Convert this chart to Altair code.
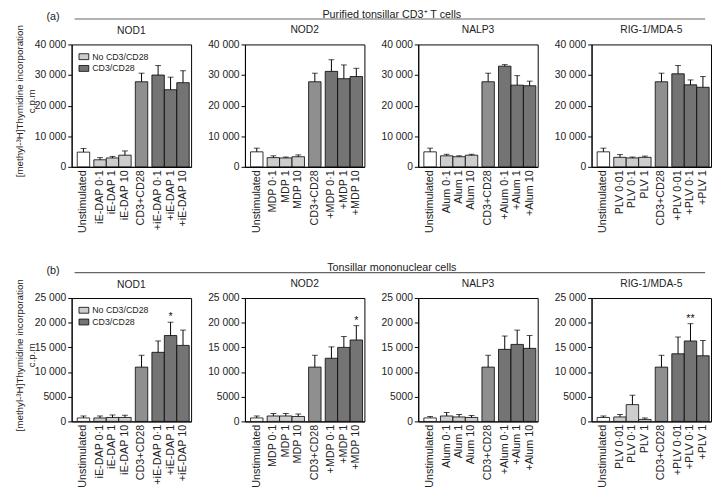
import altair as alt
import pandas as pd

FONT = "Liberation Sans, Arial, sans-serif"

# ---------------- data ----------------
panel_titles = ["NOD1", "NOD2", "NALP3", "RIG-1/MDA-5"]
header_tags = ["(a)", "(b)"]
header_texts = ["Purified tonsillar CD3\u207a T cells", "Tonsillar mononuclear cells"]

kinds = ["Unstimulated", "No CD3/CD28", "CD3+CD28", "CD3/CD28"]
kind_colors = ["#ffffff", "#cdcdcd", "#8f8f8f", "#747474"]
legend_values = ["No CD3/CD28", "CD3/CD28"]
bar_kinds = ["Unstimulated", "No CD3/CD28", "No CD3/CD28", "No CD3/CD28",
             "CD3+CD28", "CD3/CD28", "CD3/CD28", "CD3/CD28"]
# bars that start a new group (a small gap before them)
group_starts = [1, 4, 5]

labels_nod1 = ["Unstimulated", "iE-DAP 0\u00b71", "iE-DAP 1", "iE-DAP 10",
               "CD3+CD28", "+iE-DAP 0\u00b71", "+iE-DAP 1", "+iE-DAP 10"]
labels_nod2 = ["Unstimulated", "MDP 0\u00b71", "MDP 1", "MDP 10",
               "CD3+CD28", "+MDP 0\u00b71", "+MDP 1", "+MDP 10"]
labels_nalp3 = ["Unstimulated", "Alum 0\u00b71", "Alum 1", "Alum 10",
                "CD3+CD28", "+Alum 0\u00b71", "+Alum 1", "+Alum 10"]
labels_rig = ["Unstimulated", "PLV 0\u00b701", "PLV 0\u00b71", "PLV 1",
              "CD3+CD28", "+PLV 0\u00b701", "+PLV 0\u00b71", "+PLV 1"]

# (a) purified tonsillar CD3+ T cells
a_nod1_mean = [4800, 2300, 2900, 3800, 27800, 30000, 25200, 27500]
a_nod1_err = [1200, 700, 500, 1400, 2800, 3100, 4100, 3900]
a_nod2_mean = [4900, 3000, 2900, 3300, 27800, 31200, 28800, 29500]
a_nod2_err = [1200, 600, 300, 600, 2800, 3800, 4500, 2700]
a_nalp3_mean = [4900, 3600, 3300, 3800, 27800, 32900, 26700, 26500]
a_nalp3_err = [1200, 500, 300, 300, 2800, 500, 3100, 1500]
a_rig_mean = [4900, 3100, 2900, 3100, 27800, 30400, 26800, 26000]
a_rig_err = [1200, 900, 300, 400, 2800, 2700, 1600, 3500]
a_no_stars = ["", "", "", "", "", "", "", ""]

# (b) tonsillar mononuclear cells
b_nod1_mean = [700, 700, 800, 800, 11000, 14000, 17400, 15400]
b_nod1_err = [400, 400, 500, 450, 2400, 2300, 2700, 3100]
b_nod2_mean = [700, 1100, 1100, 1000, 11000, 12800, 15000, 16500]
b_nod2_err = [400, 500, 500, 500, 2400, 2300, 2200, 2900]
b_nalp3_mean = [700, 1100, 900, 800, 11000, 14600, 15600, 14800]
b_nalp3_err = [300, 700, 500, 400, 2400, 2700, 2900, 2600]
b_rig_mean = [800, 900, 3400, 400, 11000, 13700, 16300, 13300]
b_rig_err = [300, 500, 1900, 300, 2400, 3400, 3500, 3100]
b_nod1_stars = ["", "", "", "", "", "", "*", ""]
b_nod2_stars = ["", "", "", "", "", "", "", "*"]
b_nalp3_stars = ["", "", "", "", "", "", "", ""]
b_rig_stars = ["", "", "", "", "", "", "**", ""]

a_ticks = [0, 10000, 20000, 30000, 40000]
b_ticks = [0, 5000, 10000, 15000, 20000, 25000]

y_title = ["[methyl-\u00b3H]Thymidine incorporation", "c.p.m"]

PW = 122      # panel plot width
PH_A = 125
PH_B = 126


def slot_domain(labels):
    # each bar spans three narrow slots (hidden fillers either side); a single
    # hidden slot separates the groups
    dom = []
    for i, lab in enumerate(labels):
        if i in group_starts:
            dom.append(f"_g{i}")
        dom += [f"_l{i}", lab, f"_r{i}"]
    return dom


def panel(title, labels, means, errs, stars, ticks, height, first):
    df = pd.DataFrame({"label": labels, "mean": means, "err": errs,
                       "star": stars, "kind": bar_kinds})
    xs = alt.X("label:N",
               scale=alt.Scale(domain=slot_domain(labels), paddingInner=0,
                               paddingOuter=0.9, align=0.75),
               axis=alt.Axis(title=None, labelAngle=270, ticks=False, labelPadding=3,
                             labelExpr="indexof(datum.label, '_') == 0 ? '' : datum.label",
                             labelFontSize=11))
    yscale = alt.Scale(domain=[ticks[0], ticks[-1]], nice=False)
    axis_kw = dict(values=ticks, grid=False, tickSize=4, labelPadding=2, labelFontSize=10.5,
                   labelExpr="datum.value >= 10000 ? replace(format(datum.value, ','), ',', ' ') : format(datum.value, 'd')")
    if first:
        yaxis = alt.Axis(title=y_title, titleFontSize=10, titleFontWeight="normal",
                         titleX=-48, titleY=height / 2 - 5, titleLineHeight=12, **axis_kw)
        tparams = alt.TitleParams(text=title, dy=16.5)
        legend = alt.Legend(orient="top-left", title=None, values=legend_values,
                            symbolType="M-1,-0.6H1V0.6H-1Z", symbolSize=100,
                            symbolStrokeColor="black", symbolStrokeWidth=0.8,
                            labelFontSize=9, offset=7, rowPadding=1, labelOffset=3,
                            padding=0)
    else:
        yaxis = alt.Axis(title=None, **axis_kw)
        tparams = alt.TitleParams(text=title)
        legend = None

    base = alt.Chart(df).transform_calculate(top="datum.mean + datum.err")
    bars = base.mark_bar(stroke="black", strokeWidth=0.8, width={"band": 3}).encode(
        x=xs,
        y=alt.Y("mean:Q", scale=yscale, axis=yaxis),
        fill=alt.Fill("kind:N", scale=alt.Scale(domain=kinds, range=kind_colors),
                      legend=legend),
    )
    rules = base.mark_rule(color="black", strokeWidth=1).encode(
        x=alt.X("label:N"),
        y=alt.Y("mean:Q", scale=yscale, axis=yaxis),
        y2="top:Q",
    )
    caps = base.mark_tick(color="black", thickness=1, size=6).encode(
        x=alt.X("label:N"),
        y=alt.Y("top:Q", scale=yscale, axis=yaxis),
    )
    txt = base.mark_text(dy=-5, fontSize=11, color="#111").encode(
        x=alt.X("label:N"),
        y=alt.Y("top:Q", scale=yscale, axis=yaxis),
        text="star:N",
    )
    return alt.layer(bars, rules, caps, txt).properties(
        width=PW, height=height, title=tparams)


def header(tag, text):
    df = pd.DataFrame({"tag": [tag], "text": [text]})
    base = alt.Chart(df)
    line = base.mark_rule(color="#666", strokeWidth=1.2).encode(
        x=alt.value(3), x2=alt.value(647), y=alt.value(10))
    tagm = base.mark_text(align="center", baseline="middle", fontSize=11, color="#222").encode(
        x=alt.value(-19), y=alt.value(8), text="tag:N")
    tt = base.mark_text(align="center", baseline="middle", fontSize=11, color="#222").encode(
        x=alt.value(327), y=alt.value(5.5), text="text:N")
    return alt.layer(line, tagm, tt).properties(
        width=647, height=14, view=alt.ViewBackground(stroke="transparent"))


def row(panels):
    return alt.hconcat(*panels, spacing=15).resolve_scale(
        fill="independent").resolve_legend(fill="independent")


row_a = row([
    panel(panel_titles[0], labels_nod1, a_nod1_mean, a_nod1_err, a_no_stars, a_ticks, PH_A, True),
    panel(panel_titles[1], labels_nod2, a_nod2_mean, a_nod2_err, a_no_stars, a_ticks, PH_A, False),
    panel(panel_titles[2], labels_nalp3, a_nalp3_mean, a_nalp3_err, a_no_stars, a_ticks, PH_A, False),
    panel(panel_titles[3], labels_rig, a_rig_mean, a_rig_err, a_no_stars, a_ticks, PH_A, False),
])
row_b = row([
    panel(panel_titles[0], labels_nod1, b_nod1_mean, b_nod1_err, b_nod1_stars, b_ticks, PH_B, True),
    panel(panel_titles[1], labels_nod2, b_nod2_mean, b_nod2_err, b_nod2_stars, b_ticks, PH_B, False),
    panel(panel_titles[2], labels_nalp3, b_nalp3_mean, b_nalp3_err, b_nalp3_stars, b_ticks, PH_B, False),
    panel(panel_titles[3], labels_rig, b_rig_mean, b_rig_err, b_rig_stars, b_ticks, PH_B, False),
])

block_a = alt.vconcat(header(header_tags[0], header_texts[0]), row_a, spacing=0
                      ).resolve_scale(fill="independent").resolve_legend(fill="independent")
block_b = alt.vconcat(header(header_tags[1], header_texts[1]), row_b, spacing=0
                      ).resolve_scale(fill="independent").resolve_legend(fill="independent")

chart = alt.vconcat(block_a, block_b, spacing=29).resolve_scale(
    fill="independent").resolve_legend(fill="independent").properties(
    padding={"left": 6, "top": -5, "right": 0, "bottom": 4}
).configure_view(stroke="black", strokeWidth=1).configure_axis(
    labelFont=FONT, titleFont=FONT, labelColor="#222", titleColor="#222",
    domainColor="black", tickColor="black", domainWidth=1,
).configure_title(
    font=FONT, fontSize=10.5, fontWeight="normal", color="#222", offset=4,
).configure_legend(labelFont=FONT, labelColor="#222").configure_text(font=FONT)

chart.save("out.html", embed_options={"renderer": "svg", "actions": False})
